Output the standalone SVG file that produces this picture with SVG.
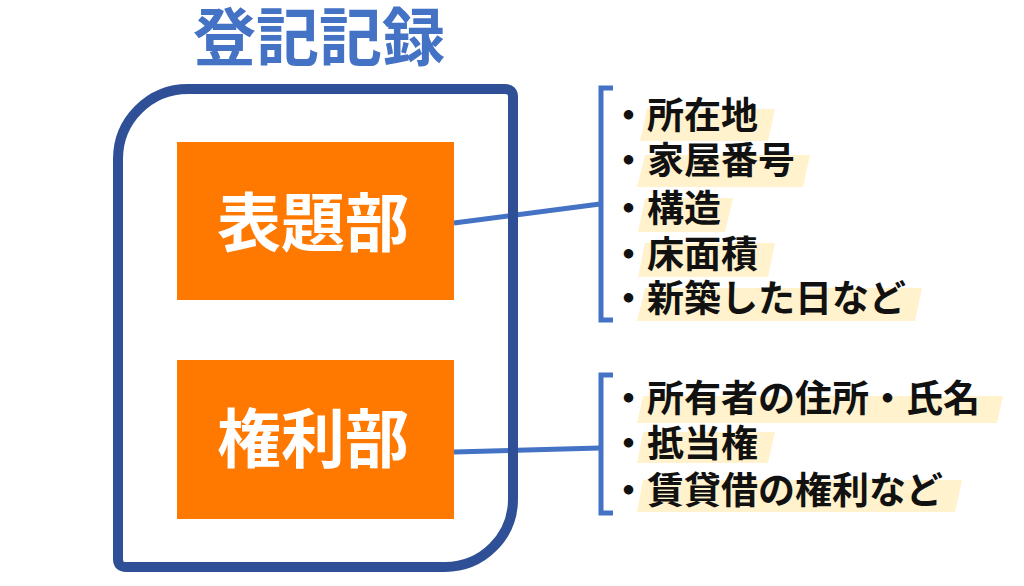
<svg xmlns="http://www.w3.org/2000/svg" width="1024" height="586" viewBox="0 0 1024 586">
<style>
.title{font-family:"Noto Sans CJK JP","Noto Sans CJK SC",sans-serif;font-weight:bold;font-size:63px;fill:#4472C4}
.part{fill:#FF7800}
.plabel{font-family:"Noto Sans CJK JP","Noto Sans CJK SC",sans-serif;font-weight:bold;font-size:64px;fill:#FFFFFF}
.item{font-family:"Noto Sans CJK JP","Noto Sans CJK SC",sans-serif;font-weight:bold;font-size:37px;fill:#111111}
.hl{fill:#FFF2CC}
.conn{fill:none;stroke:#4472C4;stroke-width:5}
.brk{fill:none;stroke:#4472C4;stroke-width:5;stroke-linejoin:miter}
.outer{fill:none;stroke:#2F5096;stroke-width:10}
</style>
<rect width="1024" height="586" fill="#FFFFFF"/>
<g id="title"><text class="title" x="319" y="60" text-anchor="middle">登記記録</text></g>
<g id="connectors">
<line class="conn" x1="454" y1="223" x2="600" y2="204"/>
<line class="conn" x1="454" y1="452" x2="600" y2="448"/>
</g>
<g id="outer-box"><path class="outer" d="M 188 89 H 505 Q 513 89 513 97 V 499 A 68 68 0 0 1 445 567 H 126 Q 118 567 118 559 V 159 A 70 70 0 0 1 188 89 Z"/></g>
<g id="hyodaibu">
<rect class="part" x="177" y="142" width="277" height="158"/>
<text class="plabel" x="313" y="246" text-anchor="middle">表題部</text>
</g>
<g id="kenribu">
<rect class="part" x="177" y="360" width="277" height="159"/>
<text class="plabel" x="313" y="462" text-anchor="middle">権利部</text>
</g>
<g id="hyodaibu-list">
<path class="brk" d="M 613 88 H 601 V 320 H 613"/>
<polygon class="hl" points="647,109 775,109 768,141 640,141"/>
<polygon class="hl" points="645,155 810,155 803,187 637,187"/>
<polygon class="hl" points="645,198 733,198 725,232 638,232"/>
<polygon class="hl" points="645,243 775,243 768,277 638,277"/>
<polygon class="hl" points="645,288 922,288 915,321 637,321"/>
<text class="item" x="610" y="129">・所在地</text>
<text class="item" x="610" y="174">・家屋番号</text>
<text class="item" x="610" y="222">・構造</text>
<text class="item" x="610" y="268">・床面積</text>
<text class="item" x="610" y="312">・新築した日など</text>
</g>
<g id="kenribu-list">
<path class="brk" d="M 613 375 H 601 V 513 H 613"/>
<polygon class="hl" points="643,396 1003,396 997,423 637,423"/>
<polygon class="hl" points="643,432 775,432 768,463 637,463"/>
<polygon class="hl" points="643,480 962,480 955,512 637,512"/>
<text class="item" x="610" y="412">・所有者の住所・氏名</text>
<text class="item" x="610" y="457">・抵当権</text>
<text class="item" x="610" y="504">・賃貸借の権利など</text>
</g>
</svg>
